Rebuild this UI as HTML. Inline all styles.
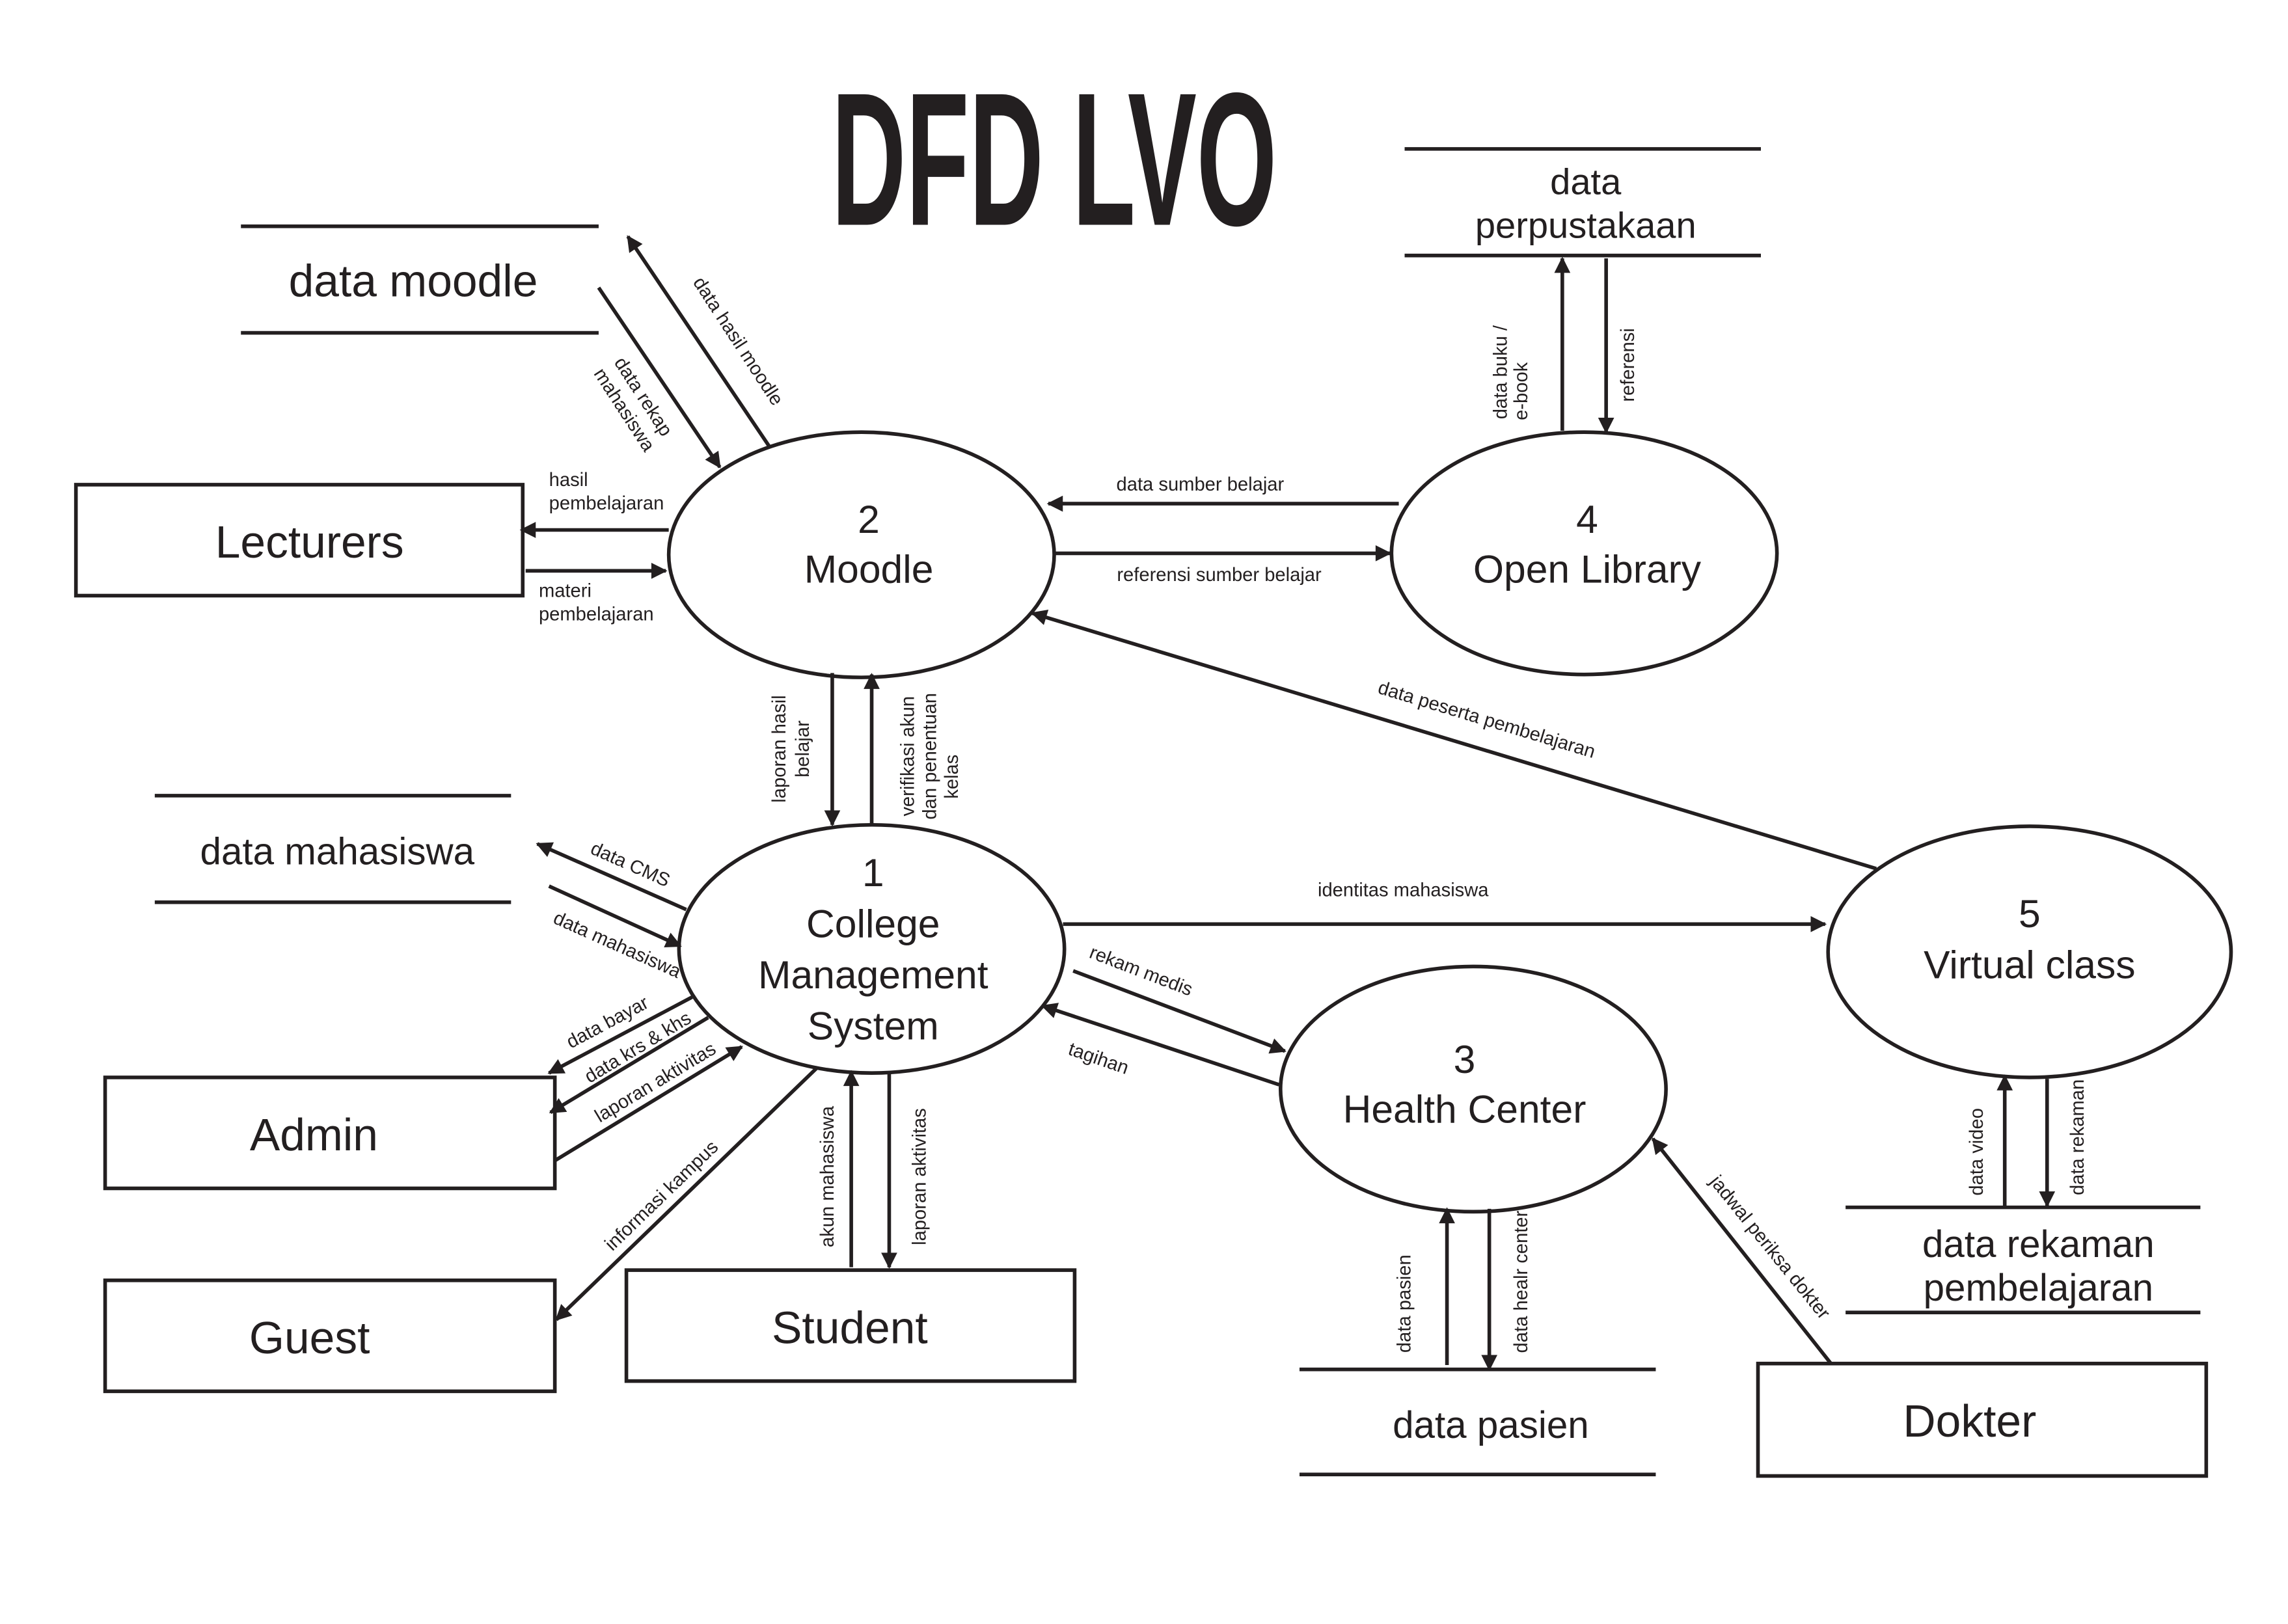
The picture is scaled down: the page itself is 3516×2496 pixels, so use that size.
<!DOCTYPE html>
<html><head><meta charset="utf-8"><style>
html,body{margin:0;padding:0;background:#fff}
svg{display:block}
text{font-family:"Liberation Sans",sans-serif;fill:#231f20}
.s{font-size:13px}
.m{font-size:27px;text-anchor:middle}
.b{font-size:31px;text-anchor:middle}
</style></head><body>
<svg width="3516" height="2496" viewBox="0 0 1567 1112.4" preserveAspectRatio="none" xmlns="http://www.w3.org/2000/svg">
<defs><marker id="a" viewBox="0 0 10 10" refX="9" refY="5" markerWidth="12" markerHeight="11" markerUnits="userSpaceOnUse" orient="auto"><path d="M0,0L10,5L0,10z" fill="#231f20"/></marker></defs>
<rect width="1570" height="1115" fill="#fff"/>
<text x="722" y="154" text-anchor="middle" font-size="130" font-weight="bold" textLength="305" lengthAdjust="spacingAndGlyphs" style="font-family:'Liberation Sans Narrow','Liberation Sans',sans-serif">DFD LVO</text>
<g stroke="#231f20" stroke-width="2.5" fill="none">
<line x1="165" y1="155" x2="410" y2="155"/><line x1="165" y1="228" x2="410" y2="228"/>
<line x1="962" y1="102" x2="1206" y2="102"/><line x1="962" y1="175" x2="1206" y2="175"/>
<line x1="106" y1="545" x2="350" y2="545"/><line x1="106" y1="618" x2="350" y2="618"/>
<line x1="890" y1="938" x2="1134" y2="938"/><line x1="890" y1="1010" x2="1134" y2="1010"/>
<line x1="1264" y1="827" x2="1507" y2="827"/><line x1="1264" y1="899" x2="1507" y2="899"/>
<rect x="52" y="332" width="306" height="76"/>
<rect x="72" y="738" width="308" height="76"/>
<rect x="72" y="877" width="308" height="76"/>
<rect x="429" y="870" width="307" height="76"/>
<rect x="1204" y="934" width="307" height="77"/>
<ellipse cx="590" cy="380" rx="132" ry="84"/>
<ellipse cx="1085" cy="379" rx="132" ry="83"/>
<ellipse cx="597" cy="650" rx="132" ry="85"/>
<ellipse cx="1009" cy="746" rx="132" ry="84"/>
<ellipse cx="1390" cy="652" rx="138" ry="86"/>
</g>
<g stroke="#231f20" stroke-width="2.5" marker-end="url(#a)">
<line x1="410" y1="197" x2="493" y2="320"/>
<line x1="527" y1="306" x2="430" y2="162"/>
<line x1="458" y1="363" x2="357" y2="363"/>
<line x1="360" y1="391" x2="456" y2="391"/>
<line x1="958" y1="345" x2="718" y2="345"/>
<line x1="722" y1="379" x2="952" y2="379"/>
<line x1="1070" y1="295" x2="1070" y2="177"/>
<line x1="1100" y1="177" x2="1100" y2="296"/>
<line x1="570" y1="461" x2="570" y2="565"/>
<line x1="597" y1="565" x2="597" y2="462"/>
<line x1="1285" y1="595" x2="707" y2="420"/>
<line x1="470" y1="623" x2="368" y2="578"/>
<line x1="376" y1="607" x2="466" y2="648"/>
<line x1="728" y1="633" x2="1250" y2="633"/>
<line x1="735" y1="665" x2="880" y2="720"/>
<line x1="876" y1="743" x2="714" y2="689"/>
<line x1="474" y1="683" x2="376" y2="735"/>
<line x1="485" y1="697" x2="377" y2="762"/>
<line x1="380" y1="795" x2="508" y2="717"/>
<line x1="560" y1="731" x2="381" y2="904"/>
<line x1="583" y1="868" x2="583" y2="734"/>
<line x1="609" y1="735" x2="609" y2="868"/>
<line x1="991" y1="935" x2="991" y2="828"/>
<line x1="1020" y1="828" x2="1020" y2="938"/>
<line x1="1254" y1="934" x2="1132" y2="780"/>
<line x1="1373" y1="826" x2="1373" y2="737"/>
<line x1="1402" y1="739" x2="1402" y2="826"/>
</g>
<text x="283" y="203" class="b">data moodle</text>
<text x="1086" y="133" class="m" style="font-size:25px">data</text>
<text x="1086" y="163" class="m" style="font-size:25px">perpustakaan</text>
<text x="231" y="592" class="m" style="font-size:26px">data mahasiswa</text>
<text x="1021" y="985" class="m" style="font-size:26px">data pasien</text>
<text x="1396" y="861" class="m" style="font-size:26px">data rekaman</text>
<text x="1396" y="891" class="m" style="font-size:26px">pembelajaran</text>
<text x="212" y="382" class="b">Lecturers</text>
<text x="215" y="788" class="b">Admin</text>
<text x="212" y="927" class="b">Guest</text>
<text x="582" y="920" class="b">Student</text>
<text x="1349" y="984" class="b">Dokter</text>
<text x="595" y="365" class="m">2</text><text x="595" y="399" class="m">Moodle</text>
<text x="1087" y="365" class="m">4</text><text x="1087" y="399" class="m">Open Library</text>
<text x="598" y="607" class="m">1</text><text x="598" y="642" class="m">College</text><text x="598" y="677" class="m">Management</text><text x="598" y="712" class="m">System</text>
<text x="1003" y="735" class="m">3</text><text x="1003" y="769" class="m">Health Center</text>
<text x="1390" y="635" class="m">5</text><text x="1390" y="670" class="m">Virtual class</text>
<text x="376" y="333" class="s">hasil</text><text x="376" y="349" class="s">pembelajaran</text>
<text x="369" y="409" class="s">materi</text><text x="369" y="425" class="s">pembelajaran</text>
<text x="822" y="336" class="s" text-anchor="middle">data sumber belajar</text>
<text x="835" y="398" class="s" text-anchor="middle">referensi sumber belajar</text>
<text x="961" y="614" class="s" text-anchor="middle">identitas mahasiswa</text>
<text transform="translate(1017,497) rotate(16.8)" class="s" text-anchor="middle">data peserta pembelajaran</text>
<text transform="translate(502,236) rotate(57)" class="s" text-anchor="middle">data hasil moodle</text>
<text transform="translate(437,274) rotate(57)" class="s" text-anchor="middle">data rekap</text>
<text transform="translate(424,283) rotate(57)" class="s" text-anchor="middle">mahasiswa</text>
<text transform="translate(1032,255) rotate(-90)" class="s" text-anchor="middle">data buku /</text>
<text transform="translate(1046,268) rotate(-90)" class="s" text-anchor="middle">e-book</text>
<text transform="translate(1119,250) rotate(-90)" class="s" text-anchor="middle">referensi</text>
<text transform="translate(538,513) rotate(-90)" class="s" text-anchor="middle">laporan hasil</text>
<text transform="translate(554,513) rotate(-90)" class="s" text-anchor="middle">belajar</text>
<text transform="translate(626,518) rotate(-90)" class="s" text-anchor="middle">verifikasi akun</text>
<text transform="translate(641,518) rotate(-90)" class="s" text-anchor="middle">dan penentuan</text>
<text transform="translate(656,532) rotate(-90)" class="s" text-anchor="middle">kelas</text>
<text transform="translate(430,596) rotate(24)" class="s" text-anchor="middle">data CMS</text>
<text transform="translate(421,651) rotate(24)" class="s" text-anchor="middle">data mahasiswa</text>
<text transform="translate(780,669) rotate(21)" class="s" text-anchor="middle">rekam medis</text>
<text transform="translate(751,729) rotate(19)" class="s" text-anchor="middle">tagihan</text>
<text transform="translate(418,704) rotate(-28)" class="s" text-anchor="middle">data bayar</text>
<text transform="translate(439,721) rotate(-31)" class="s" text-anchor="middle">data krs &amp; khs</text>
<text transform="translate(451,745) rotate(-31)" class="s" text-anchor="middle">laporan aktivitas</text>
<text transform="translate(456,822) rotate(-44)" class="s" text-anchor="middle">informasi kampus</text>
<text transform="translate(571,806) rotate(-90)" class="s" text-anchor="middle">akun mahasiswa</text>
<text transform="translate(634,806) rotate(-90)" class="s" text-anchor="middle">laporan aktivitas</text>
<text transform="translate(966,893) rotate(-90)" class="s" text-anchor="middle">data pasien</text>
<text transform="translate(1046,878) rotate(-90)" class="s" text-anchor="middle">data healr center</text>
<text transform="translate(1209,857) rotate(51)" class="s" text-anchor="middle">jadwal periksa dokter</text>
<text transform="translate(1358,789) rotate(-90)" class="s" text-anchor="middle">data video</text>
<text transform="translate(1427,779) rotate(-90)" class="s" text-anchor="middle">data rekaman</text>
</svg>
</body></html>
